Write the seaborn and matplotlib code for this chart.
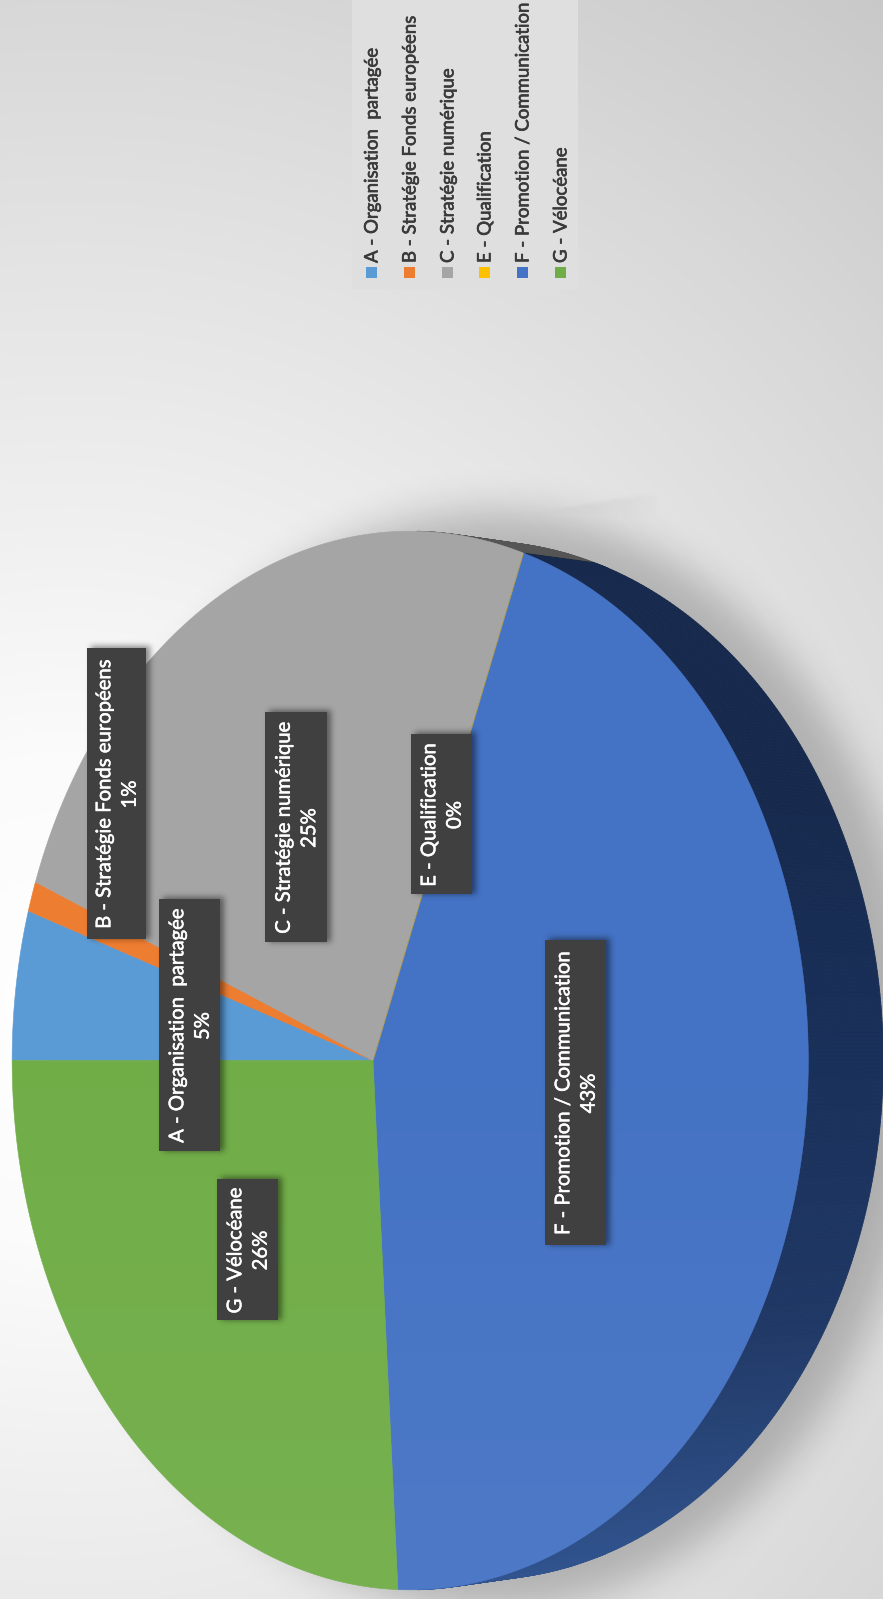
import numpy as np
import matplotlib
matplotlib.use("Agg")
import matplotlib.pyplot as plt
import matplotlib.patheffects as pe
from matplotlib.collections import PolyCollection
from matplotlib.colors import LinearSegmentedColormap, to_rgb
from matplotlib.patches import Rectangle
from matplotlib.path import Path
import seaborn as sns

# Chart data
categories = ["A - Organisation  partagée", "B - Stratégie Fonds européens",
              "C - Stratégie numérique", "E - Qualification",
              "F - Promotion / Communication", "G - Vélocéane"]
shares = [5, 1, 25, 0, 43, 26]
slice_colors = ["#5b9bd5", "#ed7d31", "#a5a5a5", "#ffc000", "#4472c4", "#70ad47"]
side_colors = ["#2f5f8c", "#8c4a1c", "#555555", "#8c6b00", "#1c3058", "#42682a"]

# Rotated data-label boxes: left, top, right, bottom in pixels
label_boxes = [(159, 899, 220, 1151), (87, 648, 146, 939), (265, 712, 327, 942),
               (411, 734, 472, 894), (545, 940, 606, 1245), (217, 1179, 278, 1320)]
legend_x = [371, 409, 447, 484, 522, 560]

W, H = 883, 1599
CY = 1060.5
TOP = dict(cx=373.0, a=394.6, b=527.0)
BASE = dict(cx=442.0, a=400.0, b=517.0)
TILT = -0.0935


def rim(frac, cx, a, b):
    """Perspective projection of points on the disc rim; 0 is the left, running clockwise."""
    t = 2 * np.pi * np.asarray(frac)
    u, v = -np.cos(t), np.sin(t)
    d = 1 + TILT * u
    return cx + a * u / d, CY - b * v / d


def gaussian(img, sigma):
    fy = np.fft.fftfreq(img.shape[0])[:, None]
    fx = np.fft.rfftfreq(img.shape[1])[None, :]
    return np.fft.irfft2(np.fft.rfft2(img) * np.exp(-2 * (np.pi * sigma) ** 2 * (fx ** 2 + fy ** 2)), s=img.shape)


def raster(xs, ys):
    gx, gy = np.meshgrid(np.arange(-100, W + 100), np.arange(-100, H + 100))
    pts = np.column_stack([gx.ravel() + .5, gy.ravel() + .5])
    return Path(np.column_stack([xs, ys])).contains_points(pts).reshape(gx.shape).astype(float)


sns.set_theme(style="white")
plt.rcParams["font.family"] = ["Lato", "DejaVu Sans"]
palette = sns.color_palette(slice_colors)

fig = plt.figure(figsize=(W / 100, H / 100), dpi=100)
ax = fig.add_axes([0, 0, 1, 1])
ax.set_xlim(0, W)
ax.set_ylim(H, 0)
ax.set_axis_off()
sns.despine(ax=ax, left=True, bottom=True)
extent = (0, W, H, 0)

# Radial page background
gx, gy = np.meshgrid(np.arange(W) + .5, np.arange(H) + .5)
shade = np.clip(np.hypot(gx - 70, gy - 1000) / 1300, 0, 1)
bg = LinearSegmentedColormap.from_list(
    "page", [(0, "#ffffff"), (.19, "#fbfbfb"), (.38, "#efefef"), (.75, "#d9d9d9"), (1, "#c8c8c8")])
ax.imshow(bg(shade), extent=extent, aspect="auto", zorder=0)

# Soft cast shadow around the base of the pie
ring = np.linspace(0, 1, 720)
sx, sy = rim(ring, BASE["cx"] + 6, BASE["a"] + 30, BASE["b"] + 30)
soft = gaussian(raster(sx, sy), 20) * 0.22
top_edge = raster(np.array([360, 660, 660, 360]), np.array([533, 493, 640, 640]))
gxx = np.arange(-100, W + 100)[None, :]
fade = np.clip((670 - gxx) / 170, 0, 1)
soft = np.maximum(soft, gaussian(top_edge, 2.5) * 0.14 * fade)[100:-100, 100:-100]
shadow = np.zeros((H, W, 4))
shadow[..., 3] = soft
ax.imshow(shadow, extent=extent, aspect="auto", zorder=1)

# Slice boundaries as fractions of the full turn
fractions = np.cumsum([0] + shares) / np.sum(shares)

# Extruded side, shaded from top to bottom; only the part showing beyond the top face
rx, ry = rim(ring, **TOP)
face_path = Path(np.column_stack([rx, ry]))
side_ramp = LinearSegmentedColormap.from_list("side", ["#172a4e", "#19305a", "#203865", "#31548f"])
quads, tones = [], []
for i, (start, stop) in enumerate(zip(fractions[:-1], fractions[1:])):
    steps = np.linspace(start, stop, max(2, int((stop - start) * 900)))
    tx, ty = rim(steps, **TOP)
    ox, oy = rim(steps, **BASE)
    hidden = face_path.contains_points(np.column_stack([ox, oy]))
    for j in range(len(steps) - 1):
        if hidden[j] and hidden[j + 1]:
            continue
        quads.append([(tx[j], ty[j]), (tx[j + 1], ty[j + 1]), (ox[j + 1], oy[j + 1]), (ox[j], oy[j])])
        mid = (oy[j] + ty[j]) / 2
        tones.append(side_ramp(np.clip((mid - 800) / 780, 0, 1)) if categories[i].startswith("F") else to_rgb(side_colors[i]))
ax.add_collection(PolyCollection(quads, facecolors=tones, edgecolors=tones, linewidths=0.6, zorder=2))

# Top face of the pie
for i, (start, stop) in enumerate(zip(fractions[:-1], fractions[1:])):
    tx, ty = rim(np.linspace(start, stop, max(2, int((stop - start) * 900))), **TOP)
    px = np.r_[TOP["cx"], tx]
    py = np.r_[CY, ty]
    if shares[i] == 0:
        ax.fill(px, py, facecolor="none", edgecolor=palette[i], linewidth=0.8, alpha=0.5, zorder=4)
    else:
        ax.fill(px, py, facecolor=palette[i], edgecolor=palette[i], linewidth=0.4, zorder=3)

# Faint light falling across the lower half of the face
glow = np.ones((H, W, 4))
glow[..., 3] = np.clip((gy - 1000) / 560, 0, 1) * 0.05
glow_img = ax.imshow(glow, extent=extent, aspect="auto", zorder=3.5)
glow_img.set_clip_path(face_path, transform=ax.transData)

# Drop shadows under the label boxes
box_mask = np.zeros((H + 200, W + 200))
for l, t, r, b in label_boxes:
    box_mask[t + 98:b + 100, l + 104:r + 104] = 1
box_shadow = np.zeros((H, W, 4))
box_shadow[..., 3] = (gaussian(box_mask, 3) * 0.45)[100:-100, 100:-100]
ax.imshow(box_shadow, extent=extent, aspect="auto", zorder=5)

# Data labels
for i, (l, t, r, b) in enumerate(label_boxes):
    ax.add_patch(Rectangle((l, t), r - l, b - t, facecolor="#404040", edgecolor="none", zorder=6))
    ax.text((l + r) / 2 + 1, (t + b) / 2 + 1, f"{categories[i]}\n{shares[i]}%", rotation=90, ha="center", va="center",
            multialignment="center", color="white", fontsize=14.6, linespacing=1.6, zorder=7,
            path_effects=[pe.withStroke(linewidth=0.35, foreground="white")])

# Legend panel
ax.add_patch(Rectangle((352, 0), 226, 289, facecolor="#dfdfdf", edgecolor="none", zorder=6))
for i, x in enumerate(legend_x):
    ax.add_patch(Rectangle((x - 5.5, 267), 11, 11, facecolor=palette[i], edgecolor="none", zorder=7))
    ax.text(x + 1, 263, categories[i], rotation=90, ha="center", va="bottom", color="#3a3a3a",
            fontsize=13.4, zorder=7, path_effects=[pe.withStroke(linewidth=0.45, foreground="#3a3a3a")])

fig.savefig("out.png", dpi=100)
